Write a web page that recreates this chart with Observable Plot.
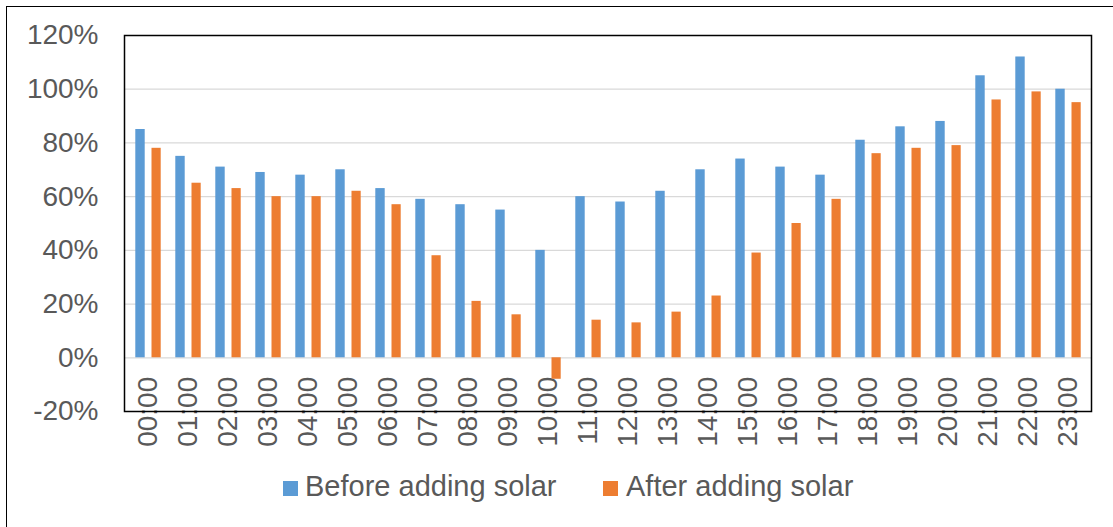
<!DOCTYPE html>
<html>
<head>
<meta charset="utf-8">
<script src="https://cdn.jsdelivr.net/npm/d3@7"></script>
<script src="https://cdn.jsdelivr.net/npm/@observablehq/plot@0.6"></script>
<style>
  html, body { margin: 0; padding: 0; background: #fff; overflow: hidden; width: 1113px; height: 527px; }
  #wrap { position: relative; width: 1113px; height: 527px; font-family: "Liberation Sans", Arial, sans-serif; }
  #outer { position: absolute; left: 6px; top: 5.5px; width: 2000px; height: 2000px; border: 1.5px solid #000; pointer-events: none; }
  #chart { position: absolute; left: 0; top: 0; }
  #legend { position: absolute; left: 0; top: 460px; width: 1113px; height: 67px; color: #595959; font-size: 29px; }
  .sw { position: absolute; width: 15px; height: 15px; top: 21px; }
  .lt { position: absolute; top: 11.5px; line-height: 1; white-space: nowrap; }
</style>
</head>
<body>
<div id="wrap">
  <div id="chart"></div>
  <div id="legend"></div>
  <div id="outer"></div>
</div>
<script>
const hours = ["00:00","01:00","02:00","03:00","04:00","05:00","06:00","07:00","08:00","09:00","10:00","11:00",
               "12:00","13:00","14:00","15:00","16:00","17:00","18:00","19:00","20:00","21:00","22:00","23:00"];
const beforeSolar = [85, 75, 71, 69, 68, 70, 63, 59, 57, 55, 40, 60, 58, 62, 70, 74, 71, 68, 81, 86, 88, 105, 112, 100];
const afterSolar  = [78, 65, 63, 60, 60, 62, 57, 38, 21, 16, -8, 14, 13, 17, 23, 39, 50, 59, 76, 78, 79, 96, 99, 95];
const yTicks = [-20, 0, 20, 40, 60, 80, 100, 120];
const seriesNames = ["Before adding solar", "After adding solar"];
const seriesColors = ["#5B9BD5", "#ED7D31"];

const data = hours.map((h, i) => ({hour: h, before: beforeSolar[i], after: afterSolar[i]}));

const chart = Plot.plot({
  width: 1113,
  height: 460,
  marginLeft: 124,
  marginRight: 22,
  marginTop: 35,
  marginBottom: 49,
  style: {fontFamily: "'Liberation Sans', Arial, sans-serif", fontSize: "28px", color: "#595959", background: "transparent"},
  x: {type: "band", domain: hours, padding: 0, axis: null},
  y: {domain: [-20, 120], axis: null},
  marks: [
    Plot.ruleY(yTicks.filter(v => v > -20 && v < 120), {stroke: "#D9D9D9", strokeWidth: 1.3}),
    Plot.text(hours, {x: d => d, y: () => 0, text: d => d, rotate: -90, textAnchor: "end", dy: 19, fontSize: 28, fill: "#595959"}),
    Plot.barY(data, {x: "hour", y: "before", fill: seriesColors[0], insetLeft: 7.3, insetRight: 23.3}),
    Plot.barY(data, {x: "hour", y: "after", fill: seriesColors[1], insetLeft: 23.5, insetRight: 7.3}),
    Plot.axisY(yTicks, {tickSize: 0, tickPadding: 26, tickFormat: d => d + "%", fontSize: 28, fill: "#595959"}),
    Plot.frame({stroke: "#000", strokeWidth: 1.5})
  ]
});
document.getElementById("chart").appendChild(chart);

const legend = document.getElementById("legend");
const swatchX = [283, 603];
const textX = [305, 626];
seriesNames.forEach((name, i) => {
  const sw = document.createElement("div");
  sw.className = "sw";
  sw.style.left = swatchX[i] + "px";
  sw.style.background = seriesColors[i];
  legend.appendChild(sw);
  const t = document.createElement("span");
  t.className = "lt";
  t.style.left = textX[i] + "px";
  t.textContent = name;
  legend.appendChild(t);
});
</script>
</body>
</html>
